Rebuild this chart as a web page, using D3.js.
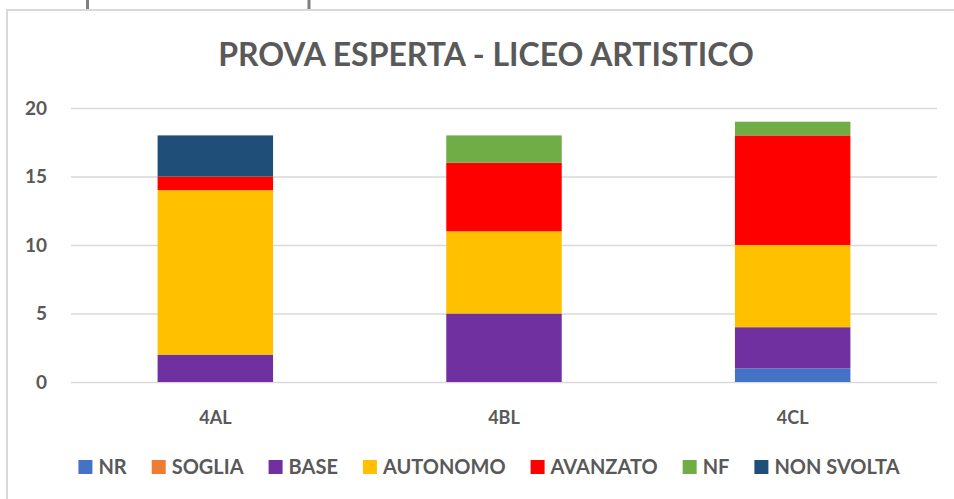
<!DOCTYPE html>
<html>
<head>
<meta charset="utf-8">
<script src="https://cdn.jsdelivr.net/npm/d3@7"></script>
<style>
  html, body { margin: 0; padding: 0; background: #fff; }
  svg { display: block; }
  text { font-family: Lato, "Open Sans", sans-serif; font-weight: bold; fill: #595959; }
</style>
</head>
<body>
<div id="chart"></div>
<script>
// data
var categories = ['4AL', '4BL', '4CL'];
var seriesNames = ['NR', 'SOGLIA', 'BASE', 'AUTONOMO', 'AVANZATO', 'NF', 'NON SVOLTA'];
var NR = [0, 0, 1];
var SOGLIA = [0, 0, 0];
var BASE = [2, 5, 3];
var AUTONOMO = [12, 6, 6];
var AVANZATO = [1, 5, 8];
var NF = [0, 2, 1];
var NON_SVOLTA = [3, 0, 0];
var seriesColors = ['#4472C4', '#ED7D31', '#7030A0', '#FFC000', '#FF0000', '#70AD47', '#1F4E79'];
var yTicks = [0, 5, 10, 15, 20];
var title = 'PROVA ESPERTA - LICEO ARTISTICO';

var W = 954, H = 499;
var plot = { left: 71, right: 937, top: 108, bottom: 382 };

var seriesValues = [NR, SOGLIA, BASE, AUTONOMO, AVANZATO, NF, NON_SVOLTA];
var rows = categories.map(function (c, i) {
	var r = { cat: c };
	seriesNames.forEach(function (s, j) { r[s] = seriesValues[j][i]; });
	return r;
});

var svg = d3.select('#chart').append('svg').attr('width', W).attr('height', H);

// frame bits cut by the screenshot
var frame = svg.append('g');
frame.append('line').attr('x1', 7).attr('x2', W).attr('y1', 10).attr('y2', 10)
	.attr('stroke', '#d9d9d9').attr('stroke-width', 2);
frame.append('line').attr('x1', 7).attr('x2', 7).attr('y1', 9).attr('y2', H)
	.attr('stroke', '#d9d9d9').attr('stroke-width', 2);
[87.5, 309].forEach(function (x) {
	frame.append('line').attr('x1', x).attr('x2', x).attr('y1', 0).attr('y2', 9)
		.attr('stroke', '#7f7f7f').attr('stroke-width', 3);
});

svg.append('text').attr('x', 486).attr('y', 66).attr('text-anchor', 'middle')
	.style('font-size', '32px').text(title);

var x = d3.scaleBand().domain(categories).range([plot.left, plot.right]).paddingInner(0.6).paddingOuter(0.3);
var y = d3.scaleLinear().domain([0, 20]).range([plot.bottom, plot.top]);

var yAxis = svg.append('g').attr('transform', 'translate(' + plot.left + ',0)')
	.call(d3.axisLeft(y).tickValues(yTicks).tickSize(-(plot.right - plot.left)).tickPadding(24));
yAxis.select('.domain').remove();
yAxis.selectAll('.tick line').attr('stroke', '#d9d9d9').attr('stroke-width', 1.5);
yAxis.selectAll('.tick text').style('font-size', '19px').attr('fill', '#595959');

var stack = d3.stack().keys(seriesNames);
var layers = stack(rows);

svg.append('g').selectAll('g').data(layers).join('g')
	.attr('fill', function (d, i) { return seriesColors[i]; })
	.selectAll('rect').data(function (d) { return d; }).join('rect')
	.attr('x', function (d) { return x(d.data.cat); })
	.attr('width', x.bandwidth())
	.attr('y', function (d) { return y(d[1]); })
	.attr('height', function (d) { return y(d[0]) - y(d[1]); });

var xAxis = svg.append('g').attr('transform', 'translate(0,' + plot.bottom + ')')
	.call(d3.axisBottom(x).tickSize(0).tickPadding(29));
xAxis.select('.domain').remove();
xAxis.selectAll('.tick text').style('font-size', '18px').attr('fill', '#595959');

// legend, laid out from measured text widths
var legend = svg.append('g').attr('transform', 'translate(0,467)');
var items = legend.selectAll('g').data(seriesNames).join('g');
items.append('rect').attr('width', 14).attr('height', 14).attr('y', -7)
	.attr('fill', function (d, i) { return seriesColors[i]; });
items.append('text').attr('x', 20).attr('dy', '0.36em').style('font-size', '20px').text(function (d) { return d; });

var cx = 0;
items.each(function () {
	var g = d3.select(this);
	g.attr('transform', 'translate(' + cx + ',0)');
	cx += 20 + g.select('text').node().getComputedTextLength() + 25;
});
var total = cx - 25;
legend.attr('transform', 'translate(' + (489 - total / 2) + ',467)');
</script>
</body>
</html>
